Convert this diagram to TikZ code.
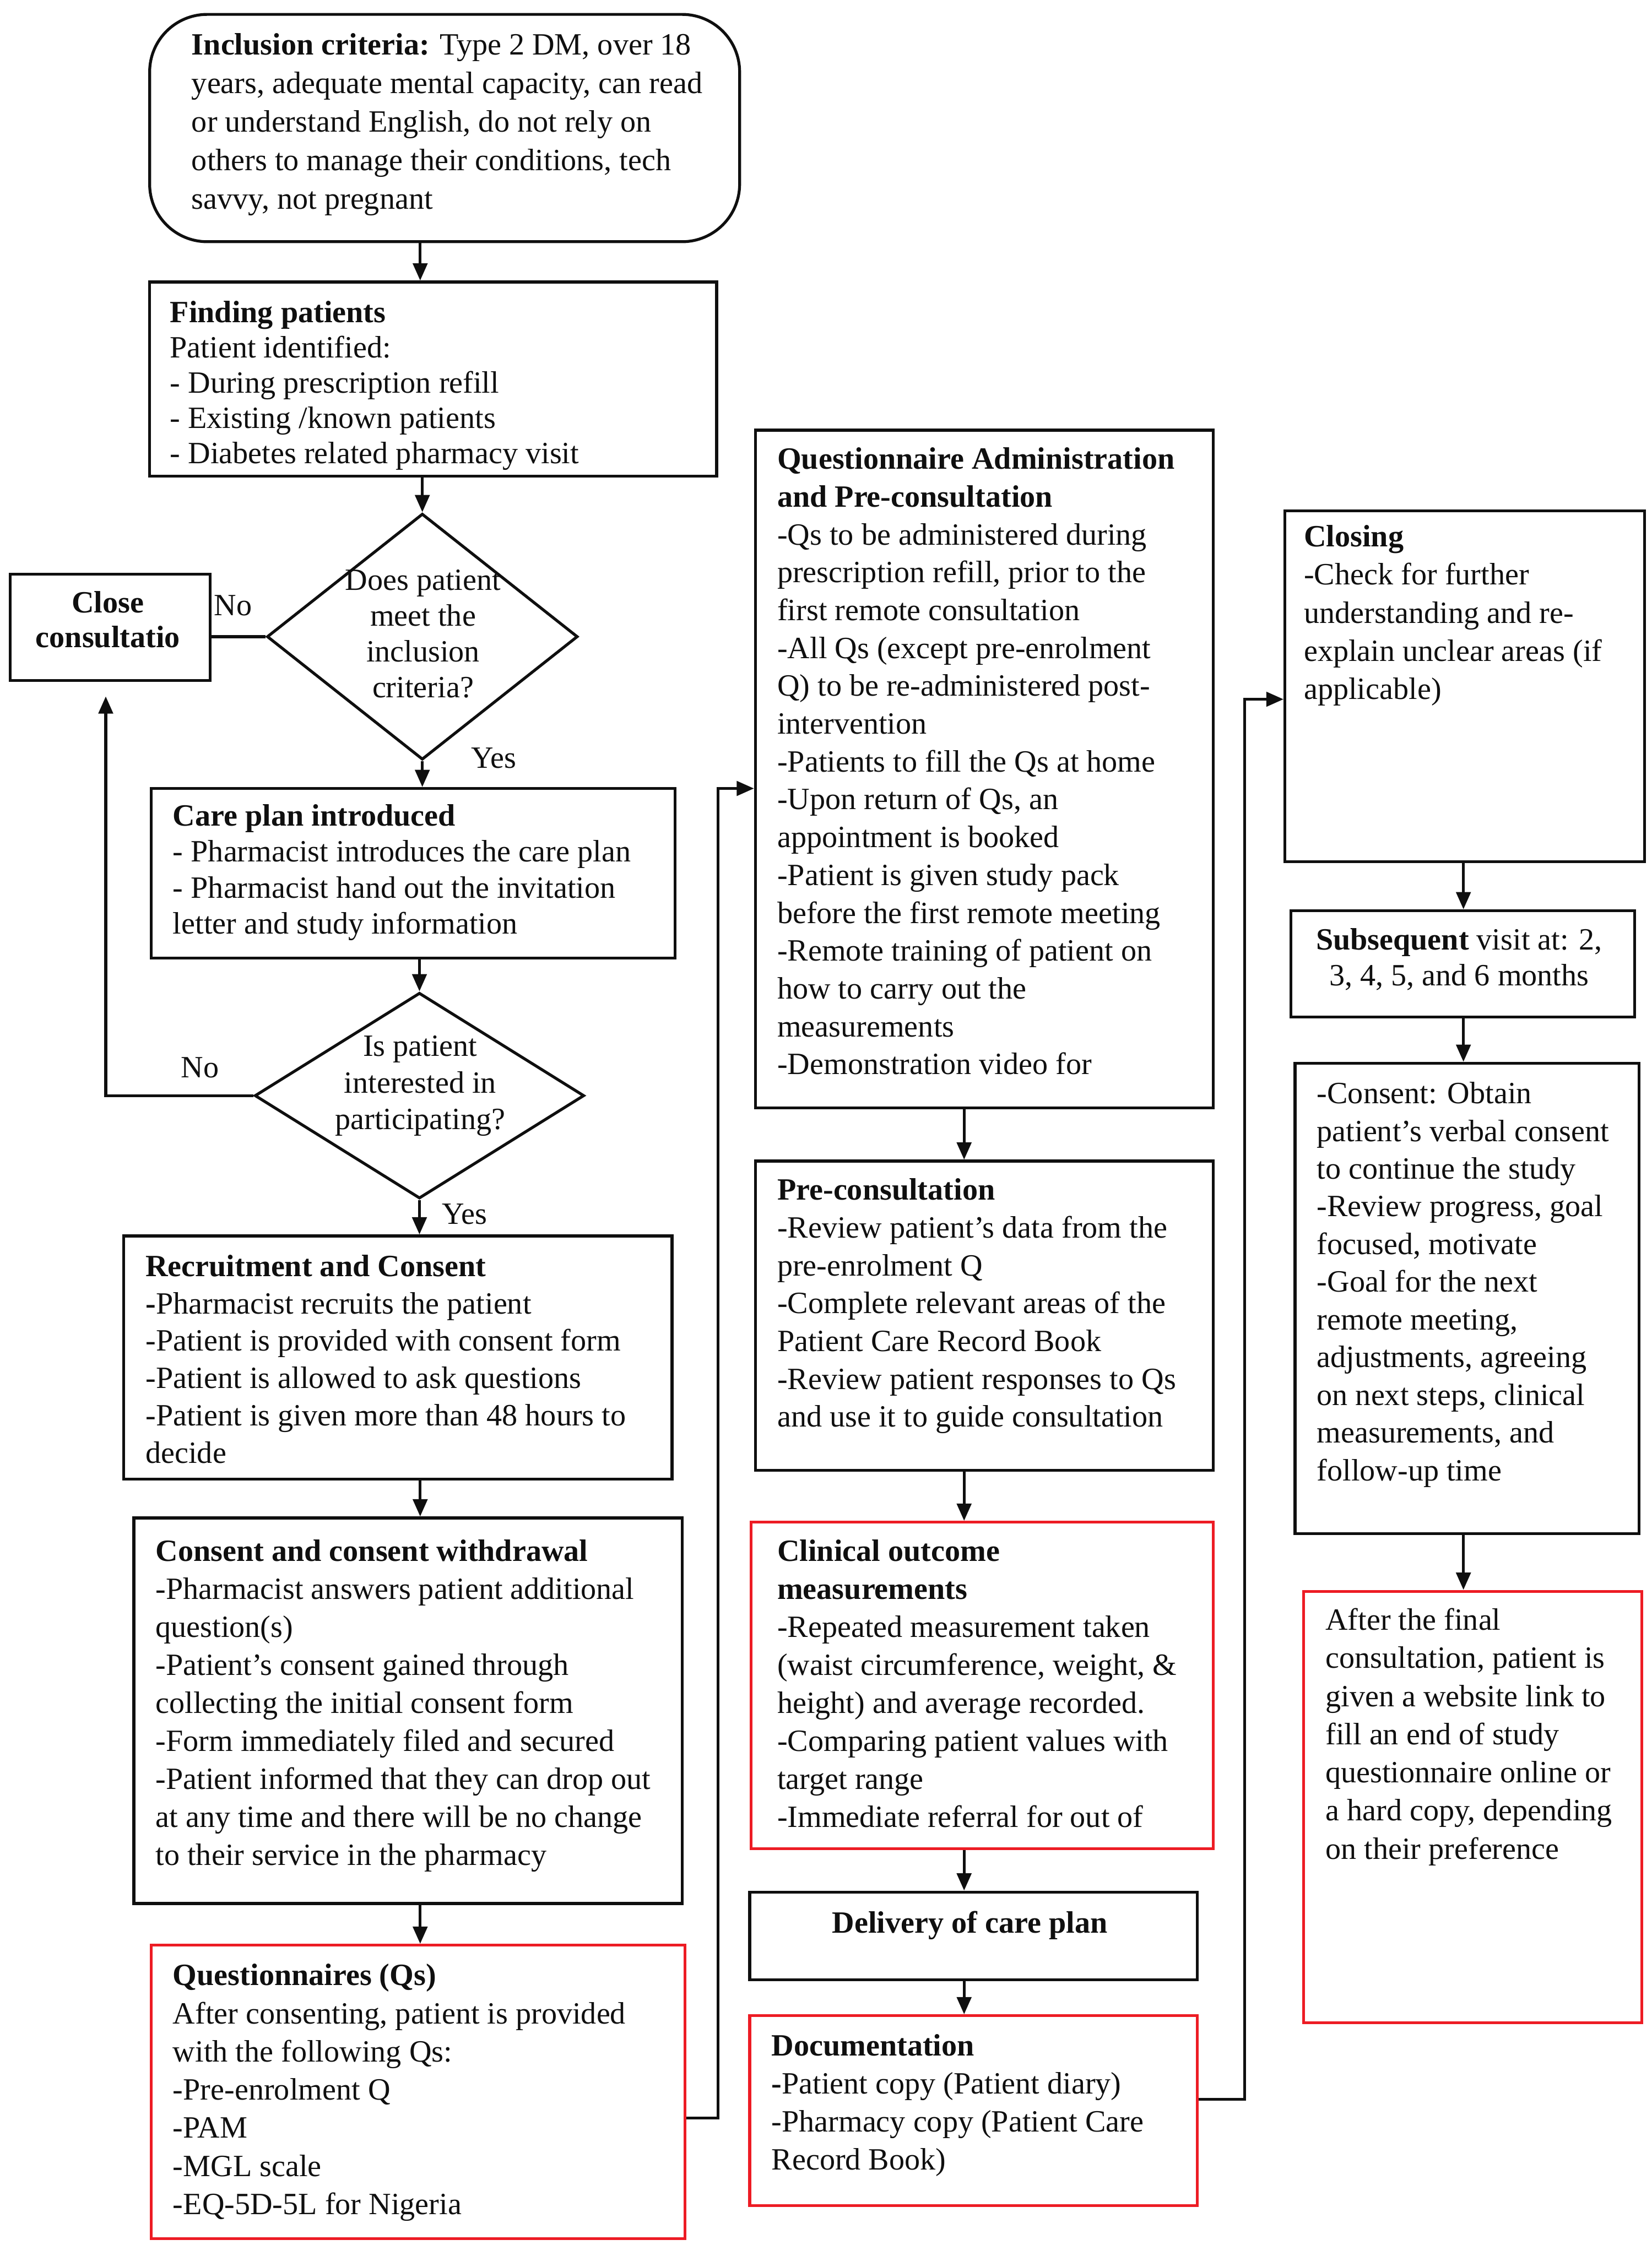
\documentclass[tikz,border=0pt]{standalone}
\usepackage{fontspec}
\setmainfont{Liberation Serif}
\usetikzlibrary{arrows.meta,positioning,shapes.geometric,calc}
\definecolor{ink}{RGB}{15,15,15}
\definecolor{flagred}{RGB}{237,28,36}
\tikzset{
  blk/.style    = {rectangle, draw=ink, line width=2pt, inner sep=0pt, anchor=north west},
  redblk/.style = {blk, draw=flagred},
  decide/.style = {diamond, draw=ink, line width=2pt, inner sep=0pt},
  txt/.style    = {anchor=base west, align=left, inner sep=0pt, text=ink,
                   font=\fontsize{21.5}{#1}\selectfont},
  txt/.default  = 26.4,
  ctxt/.style   = {txt=#1, anchor=base, align=center},
  ctxt/.default = 25,
  flow/.style   = {-{Triangle[length=12pt,width=10pt]}, draw=ink, line width=2pt},
}

\begin{document}
\begin{tikzpicture}[x=1pt, y=-1pt,
  lbl/.style={inner sep=0pt, text=ink, font=\fontsize{21.5}{24}\selectfont},
]
\fill[white] (0,0) rectangle (1148,1568);
\useasboundingbox (0,0) rectangle (1148,1568);
\coordinate (lspine) at (292,0);
\coordinate (mspine) at (670,0);
\coordinate (rspine) at (1017,0);

\node[blk, rounded corners=40pt, minimum width=410, minimum height=158] (incl) at (103,9) {};
\node[txt=26.8] (incltxt) at (133,145.2) {\textbf{Inclusion criteria:} Type 2 DM, over 18\\
  years, adequate mental capacity, can read\\ or understand English, do not rely on\\
  others to manage their conditions, tech\\ savvy, not pregnant};

\node[blk, minimum width=394, minimum height=135] (find) at (103,195) {};
\node[txt=24.5] (findtxt) at (118,322) {\textbf{Finding patients}\\ Patient identified:\\
  - During prescription refill\\ - Existing /known patients\\ - Diabetes related pharmacy visit};

\node[decide, minimum width=216, minimum height=171] (crit) at (293.5,442.5) {};
\node[ctxt=25] (crittxt) at (294,485) {Does patient\\ meet the\\ inclusion\\ criteria?};

\node[blk, minimum width=139, minimum height=74] (close) at (6,398) {};
\node[ctxt=24] (closetxt) at (75,450) {\textbf{Close}\\ \textbf{consultatio}};

\node[blk, minimum width=364, minimum height=118] (care) at (104,547) {};
\node[txt=25] (caretxt) at (120,649) {\textbf{Care plan introduced}\\
  - Pharmacist introduces the care plan\\ - Pharmacist hand out the invitation\\
  letter and study information};

\node[decide, minimum width=229, minimum height=143] (choice) at (291.5,761.5) {};
\node[ctxt=25.5] (choicetxt) at (292,785) {Is patient\\ interested in\\ participating?};

\node[blk, minimum width=381, minimum height=169] (recr) at (85,858) {};
\node[txt=26] (recrtxt) at (101,1017) {\textbf{Recruitment and Consent}\\
  \textbf{-}Pharmacist recruits the patient\\ -Patient is provided with consent form\\
  -Patient is allowed to ask questions\\ -Patient is given more than 48 hours to\\ decide};

\node[blk, minimum width=381, minimum height=268] (cons) at (92,1054) {};
\node[txt=26.4] (constxt) at (108,1296.2) {\textbf{Consent and consent withdrawal}\\
  -Pharmacist answers patient additional\\ question(s)\\ -Patient's consent gained through\\
  collecting the initial consent form\\ -Form immediately filed and secured\\
  -Patient informed that they can drop out\\ at any time and there will be no change\\
  to their service in the pharmacy};

\node[redblk, minimum width=371, minimum height=204] (qs) at (104,1351) {};
\node[txt=26.5] (qstxt) at (120,1539) {\textbf{Questionnaires (Qs)}\\
  After consenting, patient is provided\\ with the following Qs:\\ -Pre-enrolment Q\\
  -PAM\\ -MGL scale\\ -EQ-5D-5L for Nigeria};

\node[blk, minimum width=318, minimum height=471] (qadm) at (524,298) {};
\node[txt=26.3] (qadmtxt) at (540,746.8) {\textbf{Questionnaire Administration}\\
  \textbf{and Pre-consultation}\\ -Qs to be administered during\\ prescription refill, prior to the\\
  first remote consultation\\ -All Qs (except pre-enrolment\\ Q) to be re-administered post-\\
  intervention\\ -Patients to fill the Qs at home\\ -Upon return of Qs, an\\
  appointment is booked\\ -Patient is given study pack\\ before the first remote meeting\\
  -Remote training of patient on\\ how to carry out the\\ measurements\\ -Demonstration video for};

\node[blk, minimum width=318, minimum height=215] (pre) at (524,806) {};
\node[txt=26.3] (pretxt) at (540,991.8) {\textbf{Pre-consultation}\\
  -Review patient's data from the\\ pre-enrolment Q\\ -Complete relevant areas of the\\
  Patient Care Record Book\\ -Review patient responses to Qs\\ and use it to guide consultation};

\node[redblk, minimum width=321, minimum height=227] (clin) at (521,1057) {};
\node[txt=26.4] (clintxt) at (540,1269.8) {\textbf{Clinical outcome}\\ \textbf{measurements}\\
  -Repeated measurement taken\\ (waist circumference, weight, \&\\
  height) and average recorded.\\ -Comparing patient values with\\ target range\\
  -Immediate referral for out of};

\node[blk, minimum width=311, minimum height=61] (deliv) at (520,1314) {};
\node[ctxt] (delivtxt) at (674,1343.5) {\textbf{Delivery of care plan}};

\node[redblk, minimum width=311, minimum height=132] (doc) at (520,1400) {};
\node[txt=26.3] (doctxt) at (536,1507.9) {\textbf{Documentation}\\
  \textbf{-}Patient copy (Patient diary)\\ -Pharmacy copy (Patient Care\\ Record Book)};

\node[blk, minimum width=250, minimum height=244] (closing) at (892,354) {};
\node[txt=26.5] (closingtxt) at (906,486) {\textbf{Closing}\\ -Check for further\\
  understanding and re-\\ explain unclear areas (if\\ applicable)};

\node[blk, minimum width=239, minimum height=74] (subseq) at (896,632) {};
\node[ctxt=25] (subseqtxt) at (1014,685) {\textbf{Subsequent} visit at: 2,\\ 3, 4, 5, and 6 months};

\node[blk, minimum width=239, minimum height=327] (visit) at (899,738) {};
\node[txt=26.2] (visittxt) at (915,1029) {-Consent: Obtain\\ patient's verbal consent\\
  to continue the study\\ -Review progress, goal\\ focused, motivate\\ -Goal for the next\\
  remote meeting,\\ adjustments, agreeing\\ on next steps, clinical\\ measurements, and\\
  follow-up time};

\node[redblk, minimum width=235, minimum height=300] (final) at (905,1105) {};
\node[txt=26.5] (finaltxt) at (921,1292) {After the final\\ consultation, patient is\\
  given a website link to\\ fill an end of study\\ questionnaire online or\\
  a hard copy, depending\\ on their preference};

\node[lbl] (no1) at (162,421) {No};
\node[lbl] (yes1) at (343,527) {Yes};
\node[lbl] (no2) at (139,742) {No};
\node[lbl] (yes2) at (323,844) {Yes};

\draw[flow] (incl.south -| lspine) -- (find.north -| lspine);
\draw[flow] (crit.north |- find.south) -- (crit.north);
\draw[line width=2pt, draw=ink] (crit.west) -- (crit.west -| close.east);
\draw[flow] (crit.south) -- (crit.south |- care.north);
\draw[flow] (choice.north |- care.south) -- (choice.north);
\draw[flow, shorten >=10pt] (choice.west) -| ([xshift=-3pt]close.south);
\draw[flow] (choice.south) -- (choice.south |- recr.north);
\draw[flow] (recr.south -| lspine) -- (cons.north -| lspine);
\draw[flow] (cons.south -| lspine) -- (qs.north -| lspine);
\draw[flow] ([yshift=-18pt]qs.east) -- ++(22,0) |- ([yshift=-13.5pt]qadm.west);
\draw[flow] (qadm.south -| mspine) -- (pre.north -| mspine);
\draw[flow] (pre.south -| mspine) -- (clin.north -| mspine);
\draw[flow] (clin.south -| mspine) -- (deliv.north -| mspine);
\draw[flow] (deliv.south -| mspine) -- (doc.north -| mspine);
\draw[flow] ([yshift=8pt]doc.east) -- ++(32,0) |- ([yshift=-9pt]closing.west);
\draw[flow] (closing.south -| rspine) -- (subseq.north -| rspine);
\draw[flow] (subseq.south -| rspine) -- (visit.north -| rspine);
\draw[flow] (visit.south -| rspine) -- (final.north -| rspine);
\end{tikzpicture}
\end{document}
